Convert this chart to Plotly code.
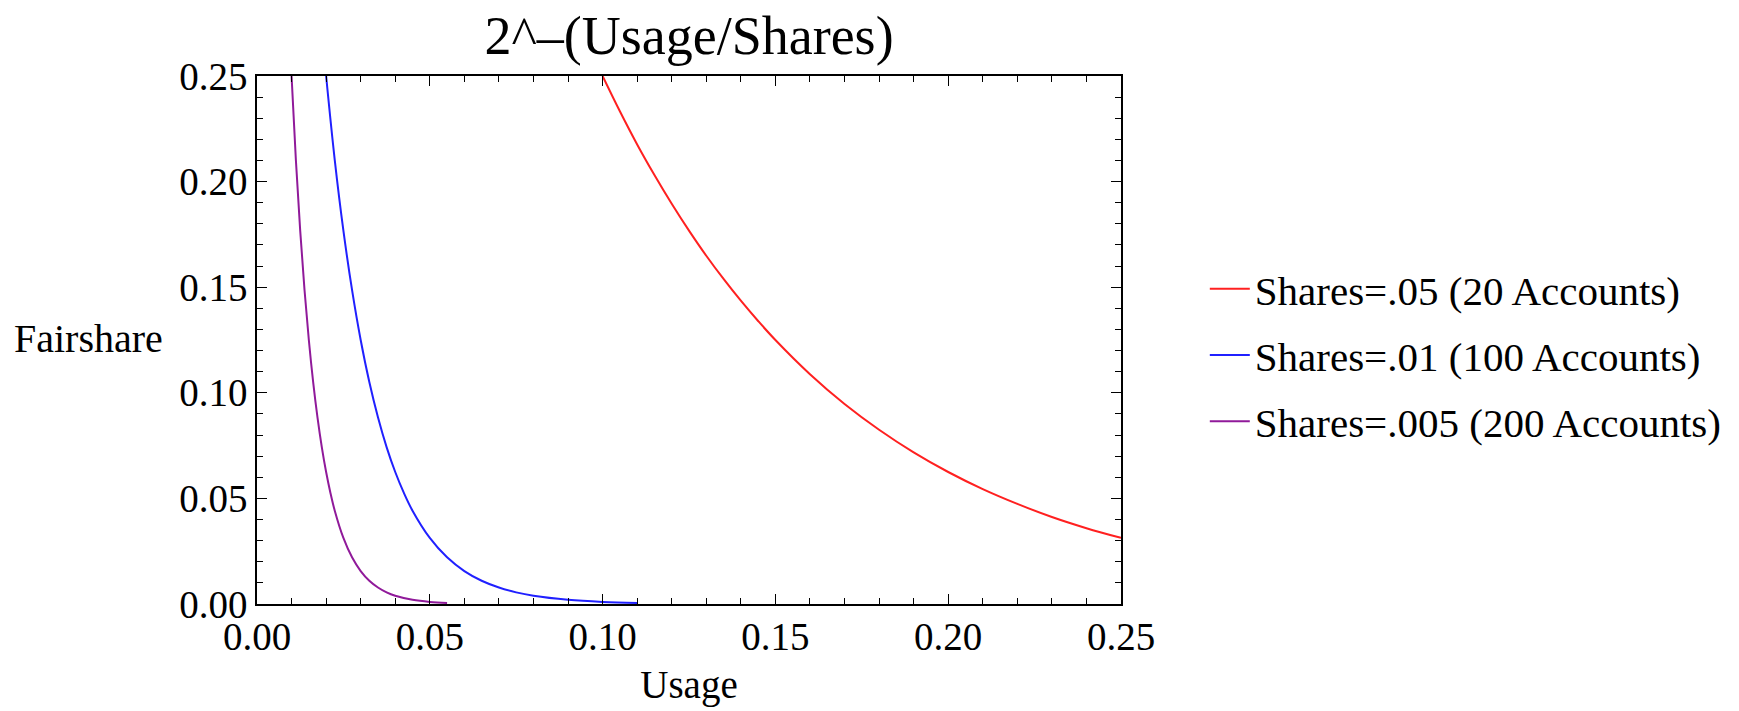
import plotly.graph_objects as go

# ---- data ----
series_names = [
    "Shares=.05 (20 Accounts)",
    "Shares=.01 (100 Accounts)",
    "Shares=.005 (200 Accounts)",
]

usage_red = [0.100, 0.105, 0.110, 0.115, 0.120, 0.125, 0.130, 0.135, 0.140, 0.145,
             0.150, 0.160, 0.170, 0.180, 0.190, 0.200, 0.210, 0.220, 0.230,
             0.240, 0.250]
fair_red = [0.2500, 0.2333, 0.2176, 0.2031, 0.1895, 0.1768, 0.1649, 0.1539, 0.1436,
            0.1340, 0.1250, 0.1088, 0.0947, 0.0825, 0.0718, 0.0625, 0.0544, 0.0474,
            0.0412, 0.0359, 0.0313]

usage_blue = [0.020, 0.0225, 0.025, 0.0275, 0.030, 0.0325, 0.035, 0.0375, 0.040,
              0.0425, 0.045, 0.050, 0.055, 0.060, 0.065, 0.070, 0.075, 0.080,
              0.090, 0.100, 0.110]
fair_blue = [0.2500, 0.2102, 0.1768, 0.1487, 0.1250, 0.1051, 0.0884, 0.0743, 0.0625,
             0.0526, 0.0442, 0.0313, 0.0221, 0.0156, 0.0110, 0.0078, 0.0055, 0.0039,
             0.0020, 0.0010, 0.0005]

usage_purple = [0.010, 0.01125, 0.0125, 0.01375, 0.015, 0.01625, 0.0175, 0.01875,
                0.020, 0.02125, 0.0225, 0.025, 0.0275, 0.030, 0.0325, 0.035,
                0.0375, 0.040, 0.045, 0.050, 0.055]
fair_purple = [0.2500, 0.2102, 0.1768, 0.1487, 0.1250, 0.1051, 0.0884, 0.0743,
               0.0625, 0.0526, 0.0442, 0.0313, 0.0221, 0.0156, 0.0110, 0.0078,
               0.0055, 0.0039, 0.0020, 0.0010, 0.0005]

title_text = "2^\u2013(Usage/Shares)"
x_title = "Usage"
y_title = "Fairshare"

FONT = "Liberation Serif, Times New Roman, serif"

fig = go.Figure()
colors = ["#ff2020", "#2020ff", "#901a9a"]
data = [(usage_red, fair_red), (usage_blue, fair_blue), (usage_purple, fair_purple)]
for i, ((xs, ys), name) in enumerate(zip(data, series_names)):
    fig.add_trace(go.Scatter(
        x=xs, y=ys, mode="lines", name=name,
        line=dict(color=colors[i], width=2, shape="spline", smoothing=1.0),
        legendgroup="g%d" % i,
    ))

axis_common = dict(
    showgrid=False, zeroline=False,
    showline=True, linecolor="black", linewidth=1.6, mirror="ticks",
    ticks="inside", ticklen=10, tickwidth=1.3, tickcolor="black",
    tickfont=dict(family=FONT, size=39, color="black"),
    tickformat=".2f", tick0=0, dtick=0.05,
    minor=dict(dtick=0.01, ticks="inside", ticklen=6, tickwidth=1.1,
               tickcolor="black", showgrid=False),
    range=[0, 0.25], fixedrange=True,
)

fig.update_layout(
    width=1739, height=711,
    margin=dict(l=257, r=613, t=76, b=99),
    paper_bgcolor="white", plot_bgcolor="white",
    font=dict(family=FONT, color="black"),
    title=dict(text=title_text, x=0.5, xref="paper", xanchor="center",
               y=0.951, yref="container", yanchor="middle",
               font=dict(family=FONT, size=54, color="black")),
    xaxis=dict(**axis_common, ticklabelstandoff=-3,
               title=dict(text=x_title, font=dict(family=FONT, size=39, color="black"),
                          standoff=14)),
    yaxis=dict(**axis_common),
    showlegend=True,
    legend=dict(
        x=1.097, xanchor="left", y=0.66, yanchor="top",
        font=dict(family=FONT, size=41, color="black"),
        traceorder="grouped", tracegroupgap=10, itemwidth=40,
        bgcolor="rgba(0,0,0,0)", borderwidth=0,
    ),
    annotations=[dict(
        text=y_title, xref="paper", yref="paper", x=-0.283, y=0.503,
        xanchor="left", yanchor="middle", showarrow=False,
        font=dict(family=FONT, size=40, color="black"),
    )],
)

fig.write_html("out.html",
               config={"displayModeBar": False},
               post_script="document.body.style.margin='0';document.body.style.padding='0';")
